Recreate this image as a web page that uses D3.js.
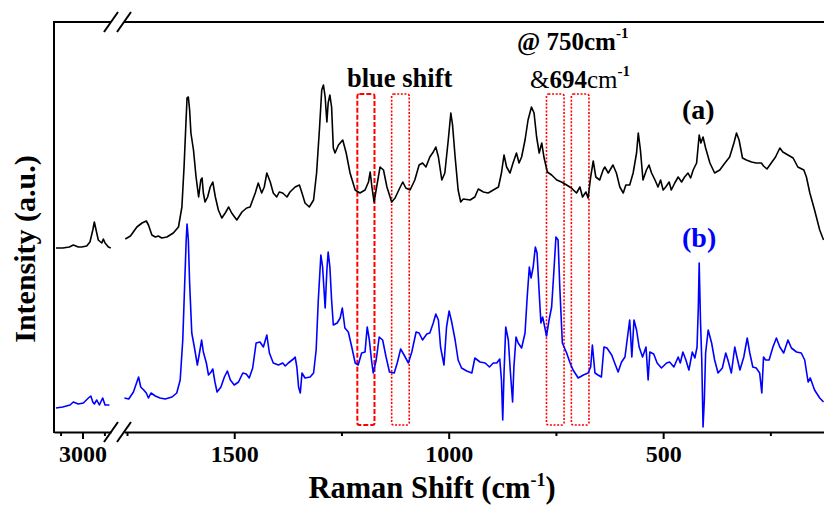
<!DOCTYPE html>
<html>
<head>
<meta charset="utf-8">
<script src="https://cdn.jsdelivr.net/npm/d3@7"></script>
<style>
  body { margin: 0; background: #fff; }
  svg { display: block; font-family: "Liberation Serif", "Times New Roman", serif; }
</style>
</head>
<body>
<script>
// ---------- data (Raman shift cm-1, intensity a.u.) ----------
const blackLeft = [[3121,18.4],[3090,18.4],[3060,18.5],[3042,18.7],[3019,18.5],[3004,18.5],[2981,18.6],[2966,19.0],[2953,20.2],[2946,21.0],[2938,20.2],[2928,19.2],[2912,18.9],[2905,19.3],[2897,18.9],[2882,18.5],[2871,18.4]];
const blackRight = [[1754,19.3],[1742,19.6],[1727,20.5],[1715,20.9],[1705,21.1],[1700,20.7],[1692,19.7],[1684,19.5],[1677,19.6],[1669,19.4],[1657,19.5],[1642,19.9],[1630,20.5],[1622,22.5],[1617,26.5],[1613,30.5],[1610,33.4],[1607,33.5],[1604,32.2],[1601,29.9],[1595,28.2],[1589,25.5],[1583,23.5],[1578,25.2],[1575,25.4],[1572,23.9],[1568,23.0],[1562,23.5],[1556,24.5],[1550,25.0],[1544,23.5],[1537,22.2],[1529,21.4],[1521,21.9],[1513,22.5],[1506,21.9],[1494,21.2],[1482,22.0],[1471,22.4],[1463,22.5],[1451,23.9],[1444,24.9],[1436,23.9],[1430,24.5],[1424,25.9],[1416,25.0],[1409,23.9],[1401,23.5],[1395,24.0],[1387,23.9],[1377,23.5],[1370,24.0],[1358,24.5],[1348,24.7],[1342,23.9],[1335,22.9],[1325,22.5],[1315,23.2],[1308,25.9],[1301,30.5],[1296,34.2],[1292,34.7],[1288,33.5],[1284,31.0],[1281,32.9],[1277,33.7],[1273,32.5],[1269,28.4],[1265,27.9],[1257,28.7],[1247,29.2],[1239,27.9],[1230,25.9],[1218,24.2],[1207,23.9],[1195,24.2],[1187,25.0],[1183,26.0],[1179,24.5],[1174,23.0],[1168,24.5],[1160,26.5],[1152,26.2],[1144,24.5],[1133,23.0],[1125,23.4],[1113,24.5],[1107,25.0],[1100,24.4],[1090,24.2],[1079,25.2],[1069,26.7],[1061,26.9],[1053,26.5],[1044,27.5],[1036,28.0],[1030,28.5],[1024,27.5],[1016,25.2],[1009,25.9],[1001,29.2],[995,31.9],[991,30.7],[985,27.5],[978,24.2],[972,23.0],[966,23.3],[950,23.2],[939,23.5],[931,24.3],[919,24.0],[908,23.9],[896,24.2],[884,24.5],[877,25.9],[871,27.7],[865,26.5],[857,25.9],[850,26.9],[842,27.9],[836,26.9],[830,27.5],[822,29.2],[815,31.2],[807,32.5],[801,31.9],[795,29.5],[789,27.9],[783,28.9],[778,27.5],[770,26.0],[760,25.7],[748,25.2],[737,25.0],[725,24.7],[714,24.4],[702,23.9],[694,24.5],[688,23.5],[680,24.0],[675,23.4],[669,25.5],[663,27.1],[657,25.5],[648,25.2],[640,26.2],[636,26.5],[628,25.9],[617,26.7],[609,25.9],[601,24.5],[593,23.9],[587,24.7],[578,24.7],[570,25.9],[562,27.9],[558,29.9],[553,28.2],[547,25.2],[539,26.2],[533,26.7],[527,25.9],[519,25.2],[512,24.5],[506,25.2],[500,24.2],[494,24.5],[486,25.0],[481,24.2],[473,24.9],[465,25.5],[457,25.0],[450,25.5],[442,25.9],[436,25.4],[430,26.2],[422,26.9],[416,29.7],[412,28.9],[407,29.5],[401,28.4],[391,26.9],[380,25.9],[368,26.2],[356,26.9],[345,27.5],[335,28.9],[329,29.9],[323,29.2],[315,27.4],[306,27.2],[294,27.0],[283,26.9],[271,26.9],[266,26.6],[258,26.3],[248,26.9],[238,27.5],[228,28.4],[221,28.0],[209,27.7],[197,27.4],[186,26.5],[172,26.2],[166,25.5],[158,23.9],[147,22.2],[135,20.2],[126,19.2]];
const blueLeft = [[3121,2.4],[3090,2.5],[3057,2.7],[3042,3.0],[3019,2.8],[2996,2.9],[2973,3.4],[2962,3.6],[2953,3.0],[2946,2.8],[2935,3.2],[2923,2.7],[2908,3.4],[2897,2.7],[2877,2.7]];
const blueRight = [[1756,3.4],[1746,3.3],[1735,4.0],[1727,5.0],[1723,5.5],[1718,4.5],[1711,4.2],[1705,3.9],[1700,3.4],[1694,3.9],[1684,3.6],[1673,3.4],[1661,3.3],[1645,3.5],[1634,3.9],[1626,5.2],[1620,9.2],[1616,14.2],[1612,19.2],[1610,20.8],[1607,19.2],[1604,14.9],[1599,9.9],[1593,8.5],[1586,6.7],[1581,7.9],[1576,9.2],[1572,8.0],[1565,6.9],[1560,5.7],[1554,6.0],[1550,6.3],[1545,5.0],[1540,4.0],[1531,4.5],[1523,5.5],[1516,6.1],[1509,5.2],[1500,4.7],[1490,5.0],[1480,5.9],[1472,5.8],[1465,5.4],[1457,6.4],[1449,8.9],[1440,9.0],[1432,8.5],[1424,9.7],[1418,7.9],[1409,6.9],[1397,6.7],[1387,6.9],[1381,6.6],[1374,6.9],[1362,7.3],[1358,7.5],[1354,6.5],[1350,4.5],[1346,3.9],[1342,5.9],[1335,5.4],[1323,5.5],[1315,5.9],[1309,8.2],[1304,13.2],[1298,17.7],[1294,16.5],[1288,12.4],[1284,16.2],[1281,18.0],[1277,16.5],[1273,13.2],[1269,10.7],[1260,10.9],[1253,11.4],[1248,12.4],[1242,10.4],[1234,10.0],[1226,8.5],[1218,6.9],[1211,6.7],[1203,7.9],[1195,8.0],[1190,10.5],[1185,9.2],[1180,7.2],[1176,5.9],[1169,7.2],[1162,9.5],[1154,9.2],[1146,7.5],[1138,6.0],[1127,5.9],[1120,6.9],[1112,8.3],[1104,7.7],[1094,6.9],[1086,8.0],[1076,10.0],[1069,9.9],[1061,9.2],[1051,9.8],[1044,9.9],[1036,10.9],[1030,11.8],[1024,11.2],[1019,8.5],[1011,6.7],[1005,10.5],[999,12.1],[993,11.0],[985,9.2],[978,7.2],[970,6.4],[958,6.1],[946,5.9],[939,7.4],[927,7.0],[915,6.9],[905,6.5],[896,6.9],[888,6.9],[881,7.3],[877,5.2],[874,1.2],[871,5.9],[867,10.5],[861,9.2],[856,5.9],[851,3.0],[848,6.5],[843,9.5],[838,8.9],[830,8.4],[822,9.9],[817,13.5],[812,16.5],[808,15.4],[803,16.5],[798,18.5],[794,17.9],[789,13.9],[785,10.9],[781,11.5],[777,10.7],[772,9.6],[766,11.2],[760,12.5],[755,15.9],[750,19.5],[745,19.2],[741,14.5],[735,8.9],[725,7.9],[717,6.9],[710,6.2],[698,5.4],[686,5.7],[675,5.9],[669,6.5],[665,8.7],[659,5.9],[652,5.7],[644,5.5],[638,8.5],[631,8.4],[620,7.7],[613,6.9],[605,6.0],[597,7.0],[589,7.5],[584,9.2],[578,11.2],[573,7.5],[568,11.2],[562,10.2],[556,8.5],[548,7.5],[540,8.5],[535,5.2],[531,8.0],[522,7.8],[514,6.9],[504,6.4],[492,6.9],[485,7.0],[475,6.5],[465,7.5],[460,6.9],[454,8.0],[447,7.2],[440,6.2],[432,8.0],[426,7.4],[421,8.5],[418,12.5],[416,16.9],[413,11.2],[410,7.2],[407,0.5],[404,3.2],[401,7.9],[395,10.2],[387,8.9],[380,7.2],[372,5.9],[362,6.4],[354,7.9],[349,7.2],[341,5.9],[333,8.5],[328,7.5],[321,6.2],[312,7.5],[304,9.4],[298,7.9],[291,6.5],[283,6.4],[275,5.9],[270,3.9],[266,7.5],[261,7.2],[253,7.2],[244,8.5],[236,9.4],[228,8.5],[219,7.9],[209,9.2],[201,8.4],[189,8.0],[178,7.9],[170,7.2],[162,5.0],[157,5.4],[147,4.2],[135,3.4],[126,3.0]];

const leftTicks = [3100, 3000, 2900];
const rightTicks = [1750, 1500, 1250, 1000, 750, 500, 250];
const labelledTicks = [3000, 1500, 1000, 500];

// highlighted regions [from, to] in cm-1, and their vertical extent in a.u.
const boxRanges = [[1213, 1173], [1133, 1092], [772, 731], [714, 673]];
const boxStyles = ["dashed", "dotted", "dotted", "dotted"];
const boxSpan = [0.7, 33.8];

// ---------- layout ----------
const W = 824, H = 506;
const svg = d3.select("body").append("svg").attr("width", W).attr("height", H);

const xL = d3.scaleLinear().domain([3130, 2870]).range([54, 111]);
const xR = d3.scaleLinear().domain([1757, 125]).range([124, 824]);
const y = d3.scaleLinear().domain([0, 41]).range([432, 22]);

const yTop = y.range()[1], yBot = y.range()[0];

// ---------- highlight boxes ----------
svg.append("g").selectAll("rect").data(boxRanges).join("rect")
  .attr("x", d => xR(d[0]))
  .attr("width", d => xR(d[1]) - xR(d[0]))
  .attr("y", y(boxSpan[1]))
  .attr("height", y(boxSpan[0]) - y(boxSpan[1]))
  .attr("rx", 2)
  .attr("fill", "none")
  .attr("stroke", "#ff0000")
  .attr("stroke-width", (d, i) => boxStyles[i] === "dashed" ? 2 : 1.6)
  .attr("stroke-dasharray", (d, i) => boxStyles[i] === "dashed" ? "5,2" : "2,1.6");

// ---------- spectra ----------
const lineL = d3.line().x(d => xL(d[0])).y(d => y(d[1]));
const lineR = d3.line().x(d => xR(d[0])).y(d => y(d[1]));
const series = [
  {l: blackLeft, r: blackRight, c: "#000000"},
  {l: blueLeft, r: blueRight, c: "#0000ff"}
];
series.forEach(s => {
  svg.append("path").attr("d", lineL(s.l)).attr("fill", "none").attr("stroke", s.c).attr("stroke-width", 1.6).attr("stroke-linejoin", "round");
  svg.append("path").attr("d", lineR(s.r)).attr("fill", "none").attr("stroke", s.c).attr("stroke-width", 1.6).attr("stroke-linejoin", "round");
});

// ---------- axes & frame ----------
function styleAxis(g) {
  g.select(".domain").attr("stroke", "#000").attr("stroke-width", 2);
  g.selectAll(".tick line").attr("stroke", "#000").attr("stroke-width", 2)
    .attr("y2", d => labelledTicks.includes(d) ? 7 : 4);
  g.selectAll(".tick text").attr("y", 30).attr("dy", 0)
    .attr("font-size", 24).attr("font-weight", "bold").attr("fill", "#000")
    .attr("font-family", "Liberation Serif, Times New Roman, serif");
}
const fmt = d => labelledTicks.includes(d) ? d : "";
svg.append("g").attr("transform", `translate(0,${yBot})`)
  .call(d3.axisBottom(xL).tickValues(leftTicks).tickFormat(fmt).tickSizeOuter(0))
  .call(styleAxis);
svg.append("g").attr("transform", `translate(0,${yBot})`)
  .call(d3.axisBottom(xR).tickValues(rightTicks).tickFormat(fmt).tickSizeOuter(0))
  .call(styleAxis);

// top frame
svg.append("line").attr("x1", xL.range()[0]).attr("x2", xL.range()[1]).attr("y1", yTop).attr("y2", yTop).attr("stroke", "#000").attr("stroke-width", 2);
svg.append("line").attr("x1", xR.range()[0]).attr("x2", xR.range()[1]).attr("y1", yTop).attr("y2", yTop).attr("stroke", "#000").attr("stroke-width", 2);
// left frame
svg.append("line").attr("x1", xL.range()[0]).attr("x2", xL.range()[0]).attr("y1", yTop - 1).attr("y2", yBot + 1).attr("stroke", "#000").attr("stroke-width", 2);

// break marks
[yTop, yBot].forEach(yy => {
  [xL.range()[1], xR.range()[0]].forEach(xx => {
    svg.append("line").attr("x1", xx - 7).attr("x2", xx + 7).attr("y1", yy + 10).attr("y2", yy - 10)
      .attr("stroke", "#000").attr("stroke-width", 2);
  });
});

// ---------- titles ----------
const xt = svg.append("text").attr("x", 432).attr("y", 498).attr("text-anchor", "middle")
  .attr("font-size", 30.5).attr("font-weight", "bold");
xt.append("tspan").text("Raman Shift (cm");
xt.append("tspan").attr("font-size", 18).attr("dy", -12).text("-1");
xt.append("tspan").attr("dy", 12).text(")");

svg.append("text").attr("transform", "translate(35,249) rotate(-90)").attr("text-anchor", "middle")
  .attr("font-size", 30).attr("font-weight", "bold").text("Intensity (a.u.)");

// ---------- annotations ----------
svg.append("text").attr("x", 347).attr("y", 87).attr("font-size", 26.5).attr("font-weight", "bold").text("blue shift");

const a1 = svg.append("text").attr("x", 517).attr("y", 50).attr("font-size", 25).attr("font-weight", "bold");
a1.append("tspan").text("@ 750cm");
a1.append("tspan").attr("font-size", 15).attr("dy", -12).text("-1");

const a2 = svg.append("text").attr("x", 530).attr("y", 88).attr("font-size", 25);
a2.append("tspan").text("&");
a2.append("tspan").attr("font-weight", "bold").text("694");
a2.append("tspan").text("cm");
a2.append("tspan").attr("font-size", 15).attr("font-weight", "bold").attr("dy", -12).text("-1");

svg.append("text").attr("x", 682).attr("y", 119).attr("font-size", 28).attr("font-weight", "bold").attr("fill", "#000").text("(a)");
svg.append("text").attr("x", 682).attr("y", 247).attr("font-size", 28).attr("font-weight", "bold").attr("fill", "#0000ff").text("(b)");
</script>
</body>
</html>
